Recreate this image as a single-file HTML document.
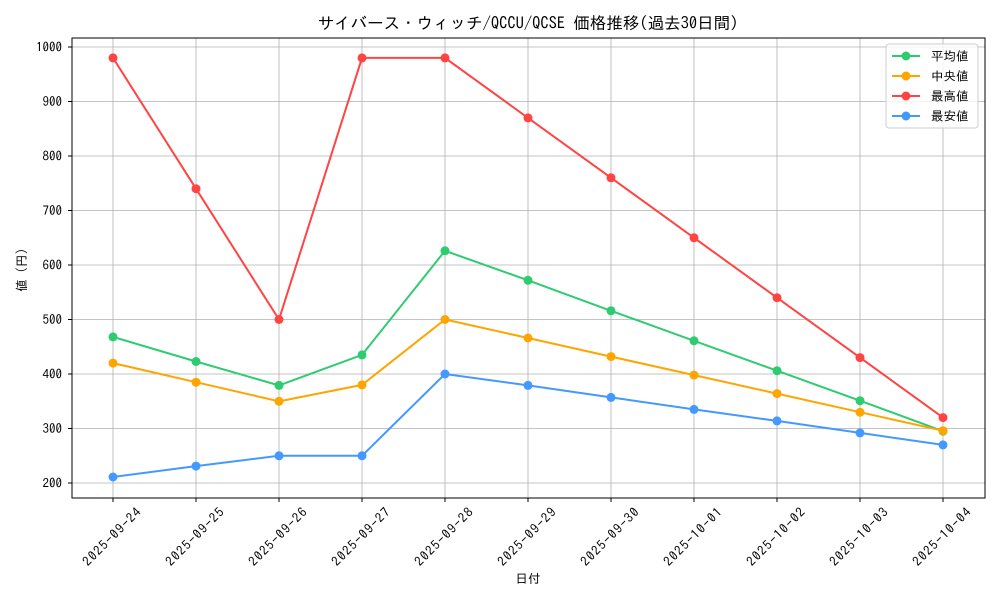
<!DOCTYPE html>
<html><head><meta charset="utf-8"><style>
body{margin:0;background:#fff;}
svg text{font-family:"IPAGothic","Liberation Sans","Noto Sans CJK JP",sans-serif;fill:#000;}
</style></head><body>
<svg width="1000" height="600" viewBox="0 0 1000 600" xmlns="http://www.w3.org/2000/svg">
<rect width="1000" height="600" fill="#fff"/>
<text x="528" y="29" font-size="16.5" text-anchor="middle">サイバース・ウィッチ/QCCU/QCSE 価格推移(過去30日間)</text>
<g stroke="#b0b0b0" stroke-width="0.8">
<line x1="72" x2="985" y1="483" y2="483"/><line x1="72" x2="985" y1="428.5" y2="428.5"/>
<line x1="72" x2="985" y1="374" y2="374"/><line x1="72" x2="985" y1="319.5" y2="319.5"/>
<line x1="72" x2="985" y1="265" y2="265"/><line x1="72" x2="985" y1="210.5" y2="210.5"/>
<line x1="72" x2="985" y1="156" y2="156"/><line x1="72" x2="985" y1="101.5" y2="101.5"/>
<line x1="72" x2="985" y1="47" y2="47"/>
<line y1="38" y2="498" x1="113" x2="113"/><line y1="38" y2="498" x1="196" x2="196"/>
<line y1="38" y2="498" x1="279" x2="279"/><line y1="38" y2="498" x1="362" x2="362"/>
<line y1="38" y2="498" x1="445" x2="445"/><line y1="38" y2="498" x1="528" x2="528"/>
<line y1="38" y2="498" x1="611" x2="611"/><line y1="38" y2="498" x1="694" x2="694"/>
<line y1="38" y2="498" x1="777" x2="777"/><line y1="38" y2="498" x1="860" x2="860"/>
<line y1="38" y2="498" x1="943" x2="943"/>
</g>
<rect x="72" y="38" width="913" height="460" fill="none" stroke="#000" stroke-width="1"/>
<g stroke="#000"><line x1="68" x2="72" y1="483" y2="483"/><line x1="68" x2="72" y1="428.5" y2="428.5"/><line x1="68" x2="72" y1="374" y2="374"/><line x1="68" x2="72" y1="319.5" y2="319.5"/><line x1="68" x2="72" y1="265" y2="265"/><line x1="68" x2="72" y1="210.5" y2="210.5"/><line x1="68" x2="72" y1="156" y2="156"/><line x1="68" x2="72" y1="101.5" y2="101.5"/><line x1="68" x2="72" y1="47" y2="47"/>
<line y1="498" y2="502" x1="113" x2="113"/><line y1="498" y2="502" x1="196" x2="196"/><line y1="498" y2="502" x1="279" x2="279"/><line y1="498" y2="502" x1="362" x2="362"/><line y1="498" y2="502" x1="445" x2="445"/><line y1="498" y2="502" x1="528" x2="528"/><line y1="498" y2="502" x1="611" x2="611"/><line y1="498" y2="502" x1="694" x2="694"/><line y1="498" y2="502" x1="777" x2="777"/><line y1="498" y2="502" x1="860" x2="860"/><line y1="498" y2="502" x1="943" x2="943"/></g>
<g font-size="13" text-anchor="end">
<text x="62" y="487.5">200</text><text x="62" y="433">300</text><text x="62" y="378.5">400</text><text x="62" y="324">500</text><text x="62" y="269.5">600</text><text x="62" y="215">700</text><text x="62" y="160.5">800</text><text x="62" y="106">900</text><text x="62" y="51.5">1000</text>
</g>
<g font-size="13" text-anchor="middle">
<text transform="translate(115,540) rotate(-45)" textLength="76">2025-09-24</text>
<text transform="translate(198,540) rotate(-45)" textLength="76">2025-09-25</text>
<text transform="translate(281,540) rotate(-45)" textLength="76">2025-09-26</text>
<text transform="translate(364,540) rotate(-45)" textLength="76">2025-09-27</text>
<text transform="translate(447,540) rotate(-45)" textLength="76">2025-09-28</text>
<text transform="translate(530,540) rotate(-45)" textLength="76">2025-09-29</text>
<text transform="translate(613,540) rotate(-45)" textLength="76">2025-09-30</text>
<text transform="translate(696,540) rotate(-45)" textLength="76">2025-10-01</text>
<text transform="translate(779,540) rotate(-45)" textLength="76">2025-10-02</text>
<text transform="translate(862,540) rotate(-45)" textLength="76">2025-10-03</text>
<text transform="translate(945,540) rotate(-45)" textLength="76">2025-10-04</text>
</g>
<text x="528" y="583" font-size="12.5" text-anchor="middle">日付</text>
<text transform="translate(26,270) rotate(-90)" font-size="12.5" text-anchor="middle">値 (円)</text>
<g fill="none" stroke-width="2">
<polyline stroke="#2ecc71" points="113,336.9 196,361.5 279,385.4 362,354.9 445,250.8 528,280.3 611,310.8 694,340.8 777,370.7 860,400.7 943,431.2"/>
<polyline stroke="#ffa500" points="113,363.1 196,382.2 279,401.3 362,384.9 445,319.5 528,338 611,356.6 694,375.1 777,393.6 860,412.2 943,430.7"/>
<polyline stroke="#ff4444" points="113,57.9 196,188.7 279,319.5 362,57.9 445,57.9 528,117.9 611,177.8 694,237.8 777,297.7 860,357.6 943,417.6"/>
<polyline stroke="#4499ff" points="113,477 196,466.1 279,455.8 362,455.8 445,374 528,385.4 611,397.4 694,409.4 777,420.9 860,432.9 943,444.9"/>
</g>
<g fill="#2ecc71"><circle cx="113" cy="336.9" r="4.5"/><circle cx="196" cy="361.5" r="4.5"/><circle cx="279" cy="385.4" r="4.5"/><circle cx="362" cy="354.9" r="4.5"/><circle cx="445" cy="250.8" r="4.5"/><circle cx="528" cy="280.3" r="4.5"/><circle cx="611" cy="310.8" r="4.5"/><circle cx="694" cy="340.8" r="4.5"/><circle cx="777" cy="370.7" r="4.5"/><circle cx="860" cy="400.7" r="4.5"/><circle cx="943" cy="431.2" r="4.5"/></g>
<g fill="#ffa500"><circle cx="113" cy="363.1" r="4.5"/><circle cx="196" cy="382.2" r="4.5"/><circle cx="279" cy="401.3" r="4.5"/><circle cx="362" cy="384.9" r="4.5"/><circle cx="445" cy="319.5" r="4.5"/><circle cx="528" cy="338" r="4.5"/><circle cx="611" cy="356.6" r="4.5"/><circle cx="694" cy="375.1" r="4.5"/><circle cx="777" cy="393.6" r="4.5"/><circle cx="860" cy="412.2" r="4.5"/><circle cx="943" cy="430.7" r="4.5"/></g>
<g fill="#ff4444"><circle cx="113" cy="57.9" r="4.5"/><circle cx="196" cy="188.7" r="4.5"/><circle cx="279" cy="319.5" r="4.5"/><circle cx="362" cy="57.9" r="4.5"/><circle cx="445" cy="57.9" r="4.5"/><circle cx="528" cy="117.9" r="4.5"/><circle cx="611" cy="177.8" r="4.5"/><circle cx="694" cy="237.8" r="4.5"/><circle cx="777" cy="297.7" r="4.5"/><circle cx="860" cy="357.6" r="4.5"/><circle cx="943" cy="417.6" r="4.5"/></g>
<g fill="#4499ff"><circle cx="113" cy="477" r="4.5"/><circle cx="196" cy="466.1" r="4.5"/><circle cx="279" cy="455.8" r="4.5"/><circle cx="362" cy="455.8" r="4.5"/><circle cx="445" cy="374" r="4.5"/><circle cx="528" cy="385.4" r="4.5"/><circle cx="611" cy="397.4" r="4.5"/><circle cx="694" cy="409.4" r="4.5"/><circle cx="777" cy="420.9" r="4.5"/><circle cx="860" cy="432.9" r="4.5"/><circle cx="943" cy="444.9" r="4.5"/></g>
<rect x="886" y="44" width="92" height="84" rx="3" fill="#fff" fill-opacity="0.8" stroke="#ccc"/>
<g stroke-width="2">
<line x1="892" x2="920" y1="56" y2="56" stroke="#2ecc71"/><circle cx="906" cy="56" r="4.5" fill="#2ecc71"/>
<line x1="892" x2="920" y1="76" y2="76" stroke="#ffa500"/><circle cx="906" cy="76" r="4.5" fill="#ffa500"/>
<line x1="892" x2="920" y1="96" y2="96" stroke="#ff4444"/><circle cx="906" cy="96" r="4.5" fill="#ff4444"/>
<line x1="892" x2="920" y1="116" y2="116" stroke="#4499ff"/><circle cx="906" cy="116" r="4.5" fill="#4499ff"/>
</g>
<g font-size="12.5"><text x="931" y="60.5">平均値</text><text x="931" y="80.5"> 中央値</text><text x="931" y="100.5">最高値</text><text x="931" y="120.5">最安値</text></g>
</svg>
</body></html>
